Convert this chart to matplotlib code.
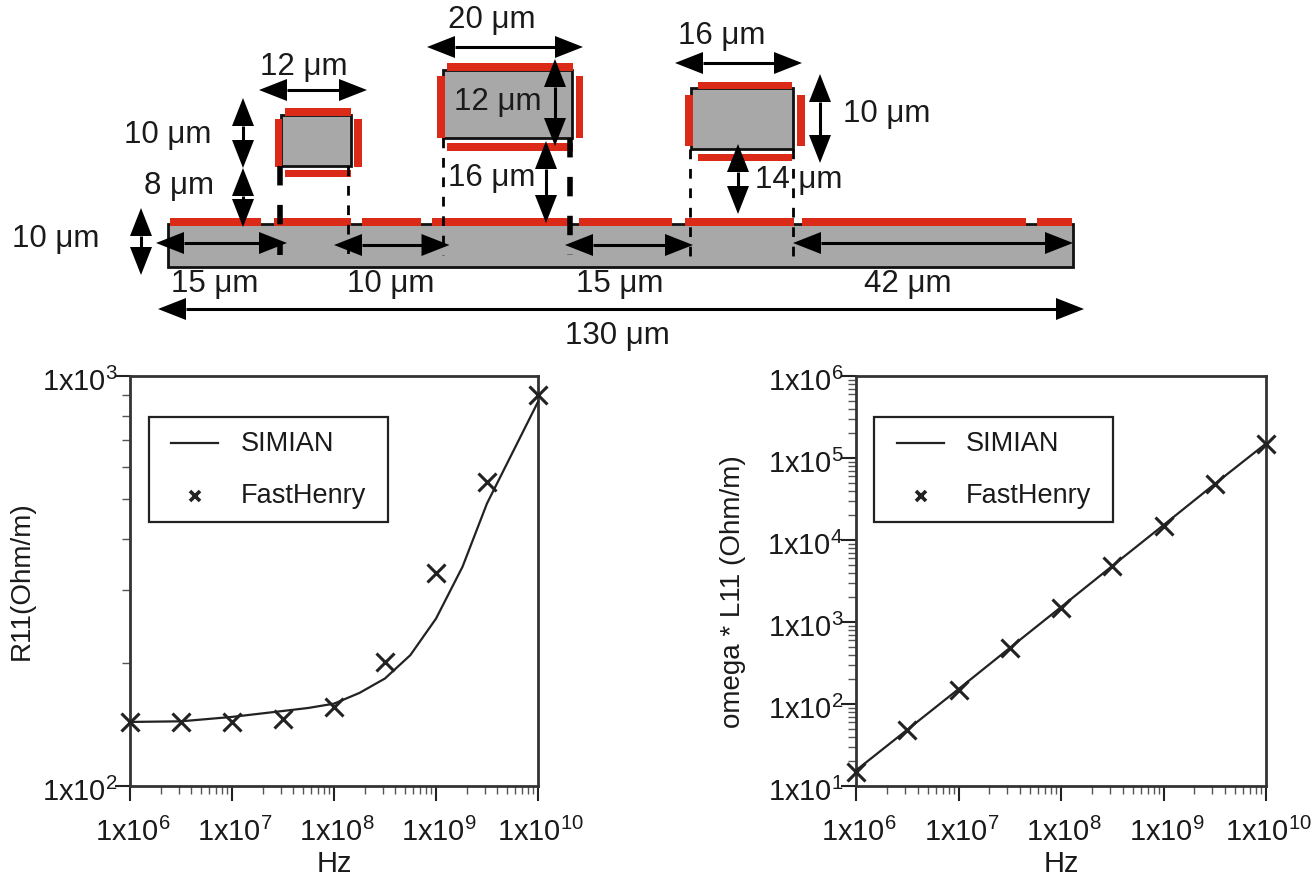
""" plot.py """

import matplotlib
matplotlib.use("Agg")
import matplotlib.pyplot as plt
from matplotlib.patches import Polygon, Rectangle
from matplotlib.ticker import NullFormatter
from matplotlib.transforms import ScaledTranslation

plt.rcParams['font.family'] = ['Liberation Sans', 'DejaVu Sans']
plt.rcParams['mathtext.fontset'] = 'custom'
plt.rcParams['mathtext.rm'] = 'Liberation Sans'
plt.rcParams['mathtext.default'] = 'regular'

W, H = 1316, 877
GRAY = '#a8a8a8'
RED = '#dc2a18'
TXT = '#1a1a1a'
FS = 21

# chart values
freq = [1e6, 3.16e6, 1e7, 3.16e7, 1e8, 3.16e8, 1e9, 3.16e9, 1e10]
r11_henry = [143.3, 143.3, 143.3, 146, 156, 200.7, 330, 552, 899]
wl11_henry = [15, 48, 150, 480, 1500, 4800, 15000, 48000, 150000]

line_freq = [1e6, 3.16e6, 1e7, 3.16e7, 5.6e7, 1e8, 1.78e8, 3.16e8, 5.6e8,
             1e9, 1.82e9, 3.16e9, 1e10]
r11_simian = [143.3, 143.8, 147.4, 152.4, 155, 158.8, 168.7, 182.9, 208.5,
              256, 342.6, 488.7, 865]
wl11_freq = [1e6, 3.16e6, 1e7, 3.16e7, 1e8, 3.16e8, 1e9, 3.16e9, 1e10]
wl11_simian = [15.5, 48.5, 152, 482, 1520, 4820, 15200, 48200, 150000]

x_ticks = [1e6, 1e7, 1e8, 1e9, 1e10]
x_labels = ['1x10$^{6}$', '1x10$^{7}$', '1x10$^{8}$', '1x10$^{9}$', '1x10$^{10}$']
left_yticks = [1e2, 1e3]
left_ylabels = ['1x10$^{2}$', '1x10$^{3}$']
right_yticks = [1e1, 1e2, 1e3, 1e4, 1e5, 1e6]
right_ylabels = ['1x10$^{1}$', '1x10$^{2}$', '1x10$^{3}$', '1x10$^{4}$', '1x10$^{5}$', '1x10$^{6}$']

# diagram geometry, pixels of the drawing
bar = (168, 224, 1073, 267)
top_strips = [(170, 261), (274, 351), (362, 421), (432, 568), (579, 672),
              (685, 794), (802, 1026), (1037, 1072)]
rects = [(281, 115, 351, 166), (443, 70, 571.5, 138), (691, 88, 793, 149)]
red_h = [(285, 351, 108, 116), (285, 351, 170, 177), (447, 573, 63, 71),
         (447, 573, 143, 151), (698, 792, 82, 89), (698, 792, 154, 161)]
red_v = [(274.5, 282, 119, 167), (354, 362, 119, 167), (437, 444.5, 76, 138),
         (576, 583, 76, 138), (685, 693, 95, 146), (797, 805, 95, 146)]
dashes = [(280, 166, 255, 4), (347.5, 166, 257, 2), (443, 138, 255, 2),
          (570, 138, 255, 4), (689.5, 149, 258, 2), (793, 149, 258, 2)]
arrows = [(259, 90, 367, 90), (427, 47, 583, 47), (675, 63, 802, 63),
          (243, 98, 243, 168), (243, 168, 243, 227), (141, 208, 141, 275),
          (156, 243, 287, 243), (334, 245, 449.5, 245), (565, 245, 693, 245),
          (793, 243, 1073, 243), (158, 309, 1084, 309), (555, 59, 555, 146),
          (546, 141, 546, 223), (820, 74, 820, 163), (738, 144, 738, 214)]
dim_labels = [('20 μm', 492, 20), ('12 μm', 304, 67), ('12 μm', 498, 102),
              ('10 μm', 168, 135), ('8 μm', 179, 186), ('16 μm', 492, 178),
              ('10 μm', 56, 239), ('15 μm', 215, 284), ('10 μm', 391, 284),
              ('15 μm', 620, 284), ('42 μm', 908, 284), ('130 μm', 617, 336),
              ('16 μm', 722, 36), ('10 μm', 887, 114), ('14 μm', 799, 180)]


def darrow(ax, x0, y0, x1, y1, hl=28, hw=11):
    """Double headed dimension arrow."""
    dx, dy = x1 - x0, y1 - y0
    d = (dx ** 2 + dy ** 2) ** 0.5
    ux, uy = dx / d, dy / d
    px, py = -uy, ux
    # shaft stops inside the heads so it does not poke past the tips
    ax.plot([x0 + ux * hl, x1 - ux * hl], [y0 + uy * hl, y1 - uy * hl],
            color='black', lw=2.2, solid_capstyle='butt', zorder=5)
    for (tx, ty, s) in [(x0, y0, 1), (x1, y1, -1)]:
        bx, by = tx + s * ux * hl, ty + s * uy * hl
        ax.add_patch(Polygon([(tx, ty), (bx + px * hw, by + py * hw),
                              (bx - px * hw, by - py * hw)],
                             closed=True, fc='black', ec='none', zorder=6))


def box(ax, x0, y0, x1, y1, **kw):
    ax.add_patch(Rectangle((x0, y0), x1 - x0, y1 - y0, **kw))


def log_panel(pos, yticks, ylabels, ylabel, ylabel_x, ylabel_y):
    x0, y0, x1, y1 = pos
    ax = fig.add_axes([x0 / W, 1 - y1 / H, (x1 - x0) / W, (y1 - y0) / H])
    ax.set_xscale('log')
    ax.set_yscale('log')
    ax.set_xlim(1e6, 1e10)
    ax.set_ylim(yticks[0], yticks[-1])
    ax.set_xticks(x_ticks, x_labels, fontsize=FS, color=TXT)
    ax.set_yticks(yticks, ylabels, fontsize=FS, color=TXT)
    ax.xaxis.set_minor_formatter(NullFormatter())
    ax.yaxis.set_minor_formatter(NullFormatter())
    ax.tick_params(which='major', length=11, width=1.5, color='#222222')
    ax.tick_params(axis='x', which='major', pad=12)
    ax.tick_params(axis='y', which='major', pad=-2)
    ax.tick_params(which='minor', length=6, width=1.0, color='#555555')
    # labels sit a little off their ticks in the original
    for lab in ax.get_xticklabels():
        lab.set_transform(lab.get_transform() + ScaledTranslation(3 / 100, 0, fig.dpi_scale_trans))
    for lab in ax.get_yticklabels():
        lab.set_transform(lab.get_transform() + ScaledTranslation(0, -3 / 100, fig.dpi_scale_trans))
    for sp in ax.spines.values():
        sp.set_linewidth(2)
        sp.set_color('#333333')
    ax.set_xlabel('Hz', fontsize=FS, color=TXT, labelpad=2)
    fig.text(ylabel_x / W, 1 - ylabel_y / H, ylabel, rotation=90, fontsize=20,
             color=TXT, ha='center', va='center')
    return ax


def legend_box(l, t, r, b, sx0, sx1, mx, tx):
    """Legend frame drawn in figure pixels, like the original's hand placed box."""
    over.add_patch(Rectangle((l, t), r - l, b - t, fc='white', ec='#222222', lw=1.6, zorder=10))
    over.plot([sx0, sx1], [443, 443], color='#222222', lw=1.6, zorder=11)
    over.plot([mx], [496], marker='x', ms=7, mew=2.6, color='#222222', ls='none', zorder=11)
    over.text(tx, 444, 'SIMIAN', fontsize=19.5, color=TXT, va='center', zorder=11)
    over.text(tx, 496, 'FastHenry', fontsize=19.5, color=TXT, va='center', zorder=11)


fig = plt.figure(figsize=(W / 100, H / 100), dpi=100, facecolor='white')

ax1 = log_panel((130, 376, 538, 786), left_yticks, left_ylabels, 'R11(Ohm/m)', 22, 581)
ax1.plot(line_freq, r11_simian, color='#222222', lw=1.6, clip_on=False, zorder=3)
ax1.plot(freq, r11_henry, ls='none', marker='x', ms=13, mew=2.2, color='#222222',
         clip_on=False, zorder=4)

ax2 = log_panel((856, 376, 1266, 786), right_yticks, right_ylabels,
                'omega * L11 (Ohm/m)', 733, 592)
ax2.plot(wl11_freq, wl11_simian, color='#222222', lw=1.6, clip_on=False, zorder=3)
ax2.plot(freq, wl11_henry, ls='none', marker='x', ms=13, mew=2.2, color='#222222',
         clip_on=False, zorder=4)

# overlay in pixel coordinates for the diagram and legends
over = fig.add_axes([0, 0, 1, 1], facecolor='none')
over.set_xlim(0, W)
over.set_ylim(H, 0)
over.axis('off')

legend_box(149, 417, 388, 522, 171, 218, 195, 241)
legend_box(874, 417, 1113, 522, 897, 944, 921, 966)

box(over, bar[0], bar[1], bar[2], bar[3], fc=GRAY, ec='#111111', lw=2, zorder=1)
for x0, x1 in top_strips:
    box(over, x0, 217.5, x1, 225.5, fc=RED, ec='none', zorder=2)
for x0, y0, x1, y1 in rects:
    box(over, x0, y0, x1, y1, fc=GRAY, ec='#111111', lw=2, zorder=1)
for x0, x1, y0, y1 in red_h + red_v:
    box(over, x0, y0, x1, y1, fc=RED, ec='none', zorder=2)
for x, y0, y1, lw in dashes:
    over.plot([x, x], [y0, y1], color='black', lw=lw, ls=(0, (3.5, 3.5)), zorder=3)
for a in arrows:
    darrow(over, *a)
for s, x, y in dim_labels:
    over.text(x, y, s, fontsize=22.5, color=TXT, ha='center', va='center', zorder=7)

fig.savefig('out.png', dpi=100)
